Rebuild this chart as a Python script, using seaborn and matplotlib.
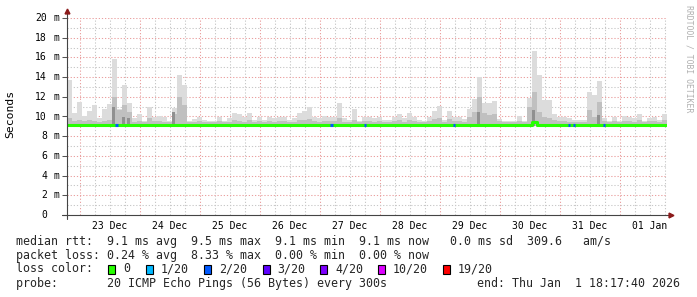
import numpy as np
import pandas as pd
import matplotlib
matplotlib.use("Agg")
import matplotlib.pyplot as plt
import matplotlib.dates as mdates
from matplotlib.patches import Rectangle
import seaborn as sns

sns.set_theme(style="white")
plt.rcParams["font.family"] = ["DejaVu Sans Mono", "DejaVu Sans"]

# ---------------- data ----------------
start = pd.Timestamp("2025-12-22 18:48")
end = pd.Timestamp("2026-01-01 18:48")
bin_hours = 2

# top of the light smoke (ms), one value per 2-hour bin
smoke_max = [
    13.7, 10.4, 11.5, 10.1, 10.6, 11.2, 9.8, 10.8, 11.3, 15.8,
    10.8, 13.2, 11.4, 9.8, 10.3, 9.5, 11.0, 10.0, 10.1, 10.0,
    9.5, 10.9, 14.2, 13.2, 9.5, 9.7, 10.0, 9.6, 9.5, 9.5,
    10.0, 9.5, 9.8, 10.4, 10.3, 10.0, 10.4, 9.6, 10.0, 9.6,
    10.0, 9.8, 10.0, 10.0, 9.6, 9.8, 10.4, 10.6, 11.0, 10.0,
    9.8, 10.1, 10.0, 10.0, 11.4, 9.8, 9.6, 10.8, 9.5, 10.0,
    10.0, 9.8, 10.0, 9.6, 9.6, 10.0, 10.3, 9.8, 10.4, 10.0,
    9.6, 9.5, 10.0, 10.6, 11.1, 9.6, 10.6, 10.0, 10.0, 9.7,
    10.8, 11.8, 14.0, 11.4, 11.4, 11.6, 9.7, 9.5, 9.5, 9.5,
    10.1, 9.5, 11.9, 16.7, 14.2, 11.7, 11.7, 10.3, 10.0, 10.0,
    9.8, 9.6, 9.6, 9.6, 12.5, 12.2, 13.6, 9.8, 9.5, 10.0,
    9.5, 10.1, 10.0, 9.8, 10.3, 9.5, 9.8, 10.0, 9.6, 10.3,
]
# top of the medium smoke (ms)
smoke_mid = [
    9.8, 9.5, 9.6, 9.5, 9.6, 9.5, 9.4, 9.5, 9.6, 12.0,
    10.7, 11.2, 10.5, 9.4, 9.5, 9.4, 9.8, 9.5, 9.5, 9.4,
    9.4, 10.3, 12.0, 11.2, 9.4, 9.4, 9.5, 9.4, 9.4, 9.4,
    9.5, 9.4, 9.4, 9.6, 9.5, 9.4, 9.6, 9.4, 9.5, 9.4,
    9.5, 9.4, 9.5, 9.5, 9.4, 9.4, 9.6, 9.6, 9.7, 9.5,
    9.4, 9.5, 9.5, 9.5, 9.8, 9.4, 9.4, 9.6, 9.4, 9.5,
    9.5, 9.4, 9.5, 9.4, 9.4, 9.5, 9.6, 9.4, 9.6, 9.5,
    9.4, 9.4, 9.5, 9.7, 9.8, 9.4, 9.7, 9.5, 9.5, 9.4,
    9.9, 10.5, 12.0, 10.4, 10.2, 10.3, 9.5, 9.4, 9.4, 9.4,
    9.5, 9.4, 11.0, 12.5, 10.5, 10.0, 9.8, 9.6, 9.5, 9.5,
    9.4, 9.4, 9.4, 9.4, 10.7, 10.0, 11.5, 9.5, 9.4, 9.5,
    9.4, 9.5, 9.5, 9.4, 9.6, 9.4, 9.5, 9.5, 9.4, 9.6,
]
smoke_floor = 9.0

# dark smoke spots
dark_times = ["2025-12-23 12:48", "2025-12-23 16:48", "2025-12-23 18:48",
              "2025-12-24 12:48", "2025-12-29 14:48", "2025-12-30 12:48",
              "2025-12-31 14:48"]
dark_tops = [11.0, 10.0, 9.8, 10.5, 10.5, 10.7, 10.2]

# median rtt (ms) per 2-hour bin
median_ms = [9.1] * 93 + [9.4] + [9.1] * 26

# packet loss events (hour long)
loss_times = ["2025-12-23 14:00", "2025-12-27 04:00", "2025-12-27 17:30",
              "2025-12-29 05:00", "2025-12-31 03:00", "2025-12-31 05:00",
              "2025-12-31 17:00"]
loss_counts = [2, 2, 2, 2, 2, 2, 2]

loss_levels = ["0", "1/20", "2/20", "3/20", "4/20", "10/20", "19/20"]
loss_level_counts = [0, 1, 2, 3, 4, 10, 19]
loss_colors = ["#26ff00", "#00b8ff", "#0059ff", "#5e00ff", "#7e00ff", "#dd00ff", "#ff0000"]

y_ticks = [0, 2, 4, 6, 8, 10, 12, 14, 16, 18, 20]

stats_lines = [
    "median rtt:  9.1 ms avg  9.5 ms max  9.1 ms min  9.1 ms now   0.0 ms sd  309.6   am/s",
    "packet loss: 0.24 % avg  8.33 % max  0.00 % min  0.00 % now",
]
probe_line = "probe:       20 ICMP Echo Pings (56 Bytes) every 300s"
end_line = "end: Thu Jan  1 18:17:40 2026"

# ---------------- figure ----------------
W, H = 697, 297
fig = plt.figure(figsize=(W / 100, H / 100), dpi=100)
fig.patch.set_facecolor("white")
ax = fig.add_axes([67 / W, 82 / H, 600 / W, 197 / H])
ax.set_facecolor("white")
ax.set_xlim(start, end)
ax.set_ylim(0, 20)

times = pd.date_range(start, periods=len(smoke_max), freq=f"{bin_hours}h")
width = bin_hours / 24.0

# grid (dotted)
for d in pd.date_range(start.ceil("6h"), end, freq="6h"):
    major = d.hour == 0
    ax.axvline(d, color="#eaa0a0" if major else "#c8c8c8", lw=0.75,
               ls=(0, (1.2, 1.8)), zorder=0.5)
for v in range(1, 21):
    ax.axhline(v, color="#eaa0a0" if v % 2 == 0 else "#c8c8c8", lw=0.75,
               ls=(0, (1.2, 1.8)), zorder=0.5)

# smoke
smax = np.array(smoke_max)
smid = np.array(smoke_mid)
ax.bar(times, smax - smoke_floor, bottom=smoke_floor, width=width, align="edge",
       color="#dcdcdc", linewidth=0, zorder=1)
ax.bar(times, smid - smoke_floor, bottom=smoke_floor, width=width, align="edge",
       color="#c0c0c0", linewidth=0, zorder=1.1)
dt = pd.to_datetime(dark_times)
ax.bar(dt, np.array(dark_tops) - smoke_floor, bottom=smoke_floor, width=width / 2,
       align="edge", color="#909090", linewidth=0, zorder=1.2)

# median line
df = pd.DataFrame({"time": list(times) + [end], "median": median_ms + [median_ms[-1]]})
sns.lineplot(data=df, x="time", y="median", drawstyle="steps-post", color="#26ff00",
             linewidth=2.2, ax=ax, zorder=3, errorbar=None)
for ln in ax.lines:
    ln.set_solid_capstyle("butt")

# loss segments
lt = pd.to_datetime(loss_times)
cmap = dict(zip(loss_level_counts, loss_colors))
ax.hlines([9.1] * len(lt), lt, lt + pd.Timedelta(hours=1),
          colors=[cmap[c] for c in loss_counts], linewidth=2.2, zorder=4)

# axes cosmetics
for s in ax.spines.values():
    s.set_visible(False)
ax.set_xlabel("")
ax.set_ylabel("")
ax.xaxis.set_major_locator(mdates.HourLocator(byhour=[12]))
ax.xaxis.set_major_formatter(mdates.DateFormatter("%d %b"))
ax.tick_params(axis="x", length=0, pad=4, labelsize=7, colors="black")
ax.set_yticks(y_ticks)
ax.set_yticklabels([""] * len(y_ticks))
ax.tick_params(axis="y", length=3.6, width=0.75, color="#555555", pad=0,
               direction="out", left=True)
ytr = ax.get_yaxis_transform()
for v in y_ticks:
    ax.text(-0.0333, v, f"{v}", transform=ytr, ha="right", va="center",
            fontsize=7, color="black")
    if v != 0:
        ax.text(-0.0225, v, "m", transform=ytr, ha="left", va="center",
                fontsize=7, color="black")

# axis lines with arrows
ax.plot([0, 0], [-0.02, 1.025], transform=ax.transAxes, color="#444444", lw=0.8,
        clip_on=False, zorder=5)
ax.plot([-0.008, 1.005], [0, 0], transform=ax.transAxes, color="#444444", lw=0.8,
        clip_on=False, zorder=5)
ax.plot([0], [1.035], marker="^", color="#8b1a1a", markersize=3.5,
        transform=ax.transAxes, clip_on=False, zorder=6)
ax.plot([1.0065], [0], marker=">", color="#8b1a1a", markersize=3.5,
        transform=ax.transAxes, clip_on=False, zorder=6)

# labels
fig.text(10.7 / W, 1 - 114 / H, "Seconds", rotation=90, ha="center", va="center",
         fontsize=8.2, color="black")
fig.text(688.5 / W, 1 - 5 / H, "RRDTOOL / TOBI OETIKER", rotation=270, ha="center",
         va="top", fontsize=5.9, color="#b0b0b0")

fs = 8.37
fig.text(16 / W, 1 - 241.7 / H, stats_lines[0], ha="left", va="center", fontsize=fs)
fig.text(16 / W, 1 - 255.7 / H, stats_lines[1], ha="left", va="center", fontsize=fs)
fig.text(16 / W, 1 - 269 / H, "loss color:", ha="left", va="center", fontsize=fs)
box_x = [108.3, 146.1, 204.0, 262.8, 319.8, 377.7, 442.7]
label_x = [123.5, 161.0, 219.0, 277.5, 335.4, 392.8, 457.5]
for bx, lx, lab, col in zip(box_x, label_x, loss_levels, loss_colors):
    fig.patches.append(Rectangle((bx / W, 1 - 273.5 / H), 7 / W, 9 / H,
                                 transform=fig.transFigure, facecolor=col,
                                 edgecolor="black", linewidth=0.8))
    fig.text(lx / W, 1 - 269 / H, lab, ha="left", va="center", fontsize=fs)
fig.text(16 / W, 1 - 283.3 / H, probe_line, ha="left", va="center", fontsize=fs)
fig.text(680 / W, 1 - 283.3 / H, end_line, ha="right", va="center", fontsize=fs)

fig.savefig("out.png", dpi=100, facecolor="white")
